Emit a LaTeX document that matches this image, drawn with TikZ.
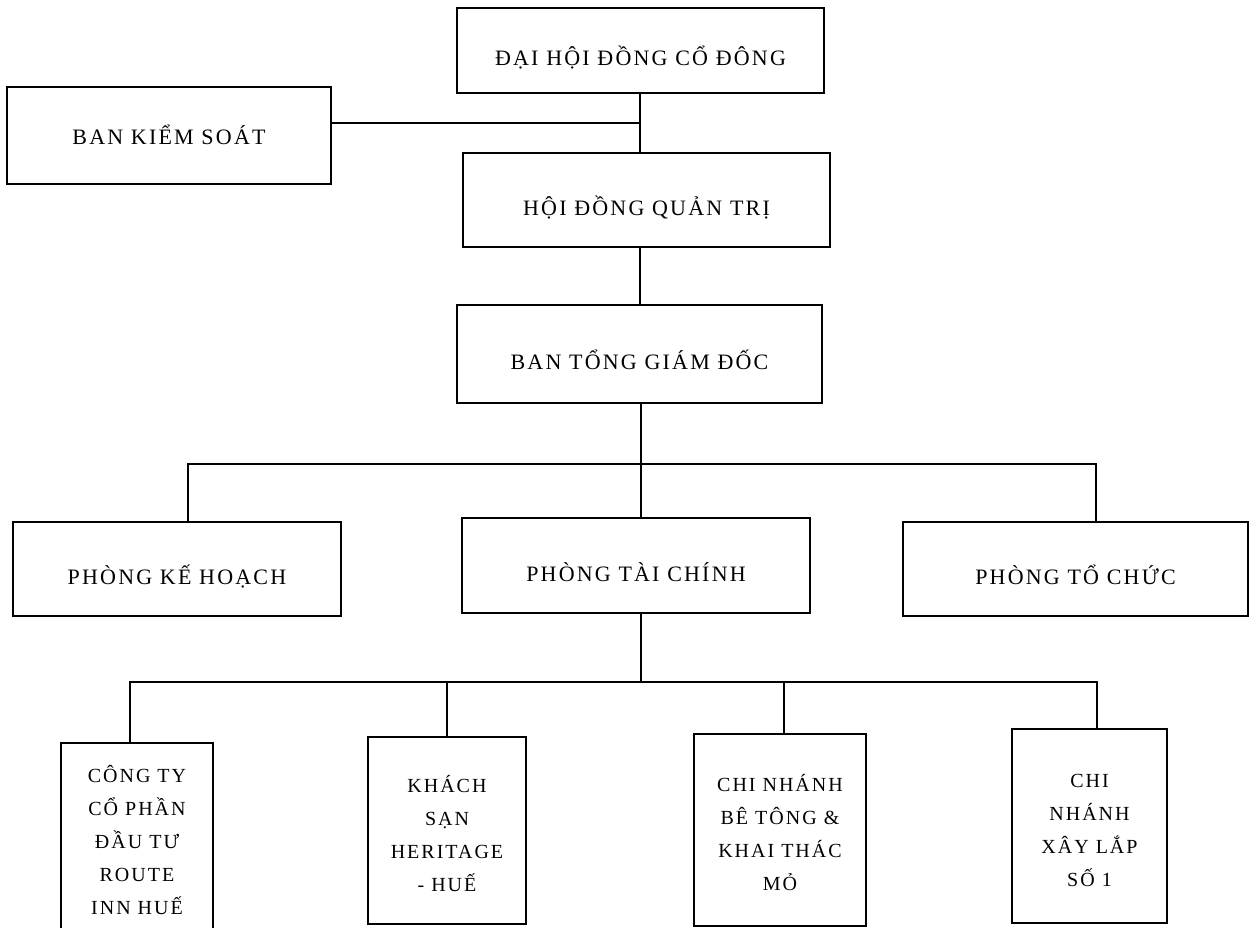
\documentclass[tikz,border=0pt]{standalone}
\usepackage{fontspec}
\setmainfont{Liberation Serif}[LetterSpace=10]
\begin{document}
\begin{tikzpicture}[x=1pt,y=-1pt,
    box/.style={draw,line width=2pt,inner sep=0pt,text height=35pt,text depth=4pt,font=\fontsize{22}{26}\selectfont},
    unit/.style={draw,line width=2pt,inner sep=0pt,align=center,text height=126pt,text depth=5pt,font=\fontsize{20}{33}\selectfont}]
      \useasboundingbox (0,0) rectangle (1253,928);
      \draw
        (640.5,50.5) node[box,minimum width=367,minimum height=85] (dh){ĐẠI HỘI ĐỒNG CỔ ĐÔNG}
        (169,135.5) node[box,text height=22pt,minimum width=324,minimum height=97] (bks){BAN KIỂM SOÁT}
        (646.5,200) node[box,minimum width=367,minimum height=94] (hd){HỘI ĐỒNG QUẢN TRỊ}
        (639.5,354) node[box,minimum width=365,minimum height=98] (bt){BAN TỔNG GIÁM ĐỐC}
        (177,569) node[box,minimum width=328,minimum height=94] (pkh){PHÒNG KẾ HOẠCH}
        (636,565.5) node[box,minimum width=348,minimum height=95] (tc){PHÒNG TÀI CHÍNH}
        (1075.5,569) node[box,minimum width=345,minimum height=94] (ptc){PHÒNG TỔ CHỨC}
        (137,840) node[unit,text height=,text depth=,minimum width=152,minimum height=194] (ct){CÔNG TY\\CỔ PHẦN\\ĐẦU TƯ\\ROUTE\\INN HUẾ}
        (447,830.5) node[unit,minimum width=158,minimum height=187] (ks){KHÁCH\\SẠN\\HERITAGE\\- HUẾ}
        (780,830) node[unit,minimum width=172,minimum height=192] (bet){CHI NHÁNH\\BÊ TÔNG \&\\KHAI THÁC\\MỎ}
        (1089.5,826) node[unit,minimum width=155,minimum height=194] (xl){CHI\\NHÁNH\\XÂY LẮP\\SỐ 1};
      \coordinate (j1) at (640,123);
      \coordinate (bus1) at (641,464);
      \coordinate (bus2) at (641,682);
      \begin{scope}[line width=2pt]
        \draw (dh.south -| j1) -- (hd.north -| j1);
        \draw (bks.east |- j1) -- (j1);
        \draw (hd.south -| j1) -- (bt.north -| j1);
        \draw (bt.south -| bus1) -- (tc.north -| bus1);
        \draw ([xshift=11pt]pkh.north) |- (bus1) -| ([xshift=20pt]ptc.north);
        \draw (tc.south -| bus2) -- (bus2);
        \draw ([xshift=-7pt]ct.north) |- (bus2) -| ([xshift=7pt]xl.north);
        \draw (ks.north) -- (ks.north |- bus2);
        \draw ([xshift=4pt]bet.north) -- ([xshift=4pt]bet.north |- bus2);
      \end{scope}
    \end{tikzpicture}
\end{document}
